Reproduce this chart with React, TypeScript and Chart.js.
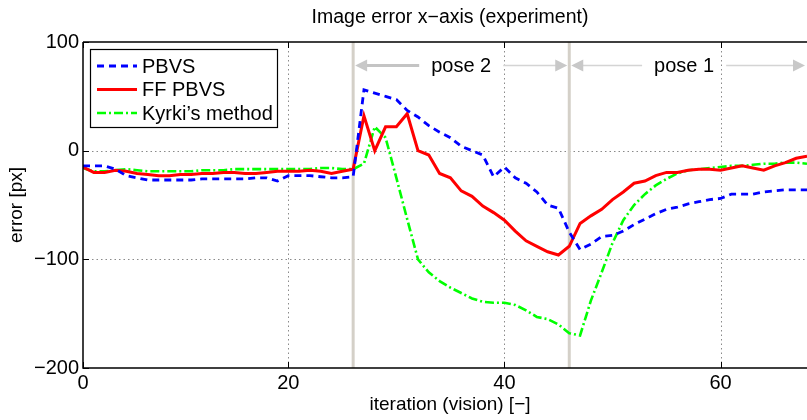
import React, { useEffect, useRef } from "react";
import { Chart, registerables } from "chart.js";
Chart.register(...registerables);

// ---------- data ----------
const FIRST_ITERATION = 1;
const PBVS = [
  -14, -14, -14, -17, -23, -25, -27, -27, -27, -27, -27, -26, -26, -26, -26, -26, -25, -25, -28, -23,
  -23, -23, -24, -25, -25, -24, 56, 53, 50, 47, 37, 31, 23, 17, 12, 4, 0, -4, -24, -15,
  -25, -30, -38, -50, -53, -75, -91, -86, -79, -78, -74, -68, -63, -58, -54, -52, -49, -47, -45, -44,
  -40, -40, -40, -38, -37, -36, -36, -36,
];
const FF_PBVS = [
  -15, -20, -20, -18, -19, -21, -22, -23, -23, -22, -22, -21, -21, -20, -20, -21, -21, -20, -19, -19,
  -19, -18, -19, -21, -19, -17, 32, 0, 22, 22, 34, 0, -4, -21, -25, -37, -42, -51, -57, -64,
  -74, -83, -88, -93, -96, -88, -67, -60, -54, -45, -38, -30, -28, -23, -20, -20, -18, -17, -17, -18,
  -16, -14, -16, -18, -14, -11, -7, -5,
];
const KYRKI = [
  -16, -19, -19, -18, -17, -18, -19, -19, -19, -19, -19, -18, -18, -18, -17, -17, -17, -17, -17, -17,
  -17, -17, -16, -16, -17, -17, -12, 22, 12, -25, -63, -100, -112, -120, -126, -131, -136, -139, -140, -140,
  -142, -147, -153, -155, -160, -168, -170, -138, -112, -85, -64, -50, -40, -32, -26, -21, -18, -17, -16, -15,
  -14, -14, -13, -12, -12, -11, -11, -12,
];
const SERIES_NAMES = ["PBVS", "FF PBVS", "Kyrki\u2019s method"];
const X_TICK_VALUES = [1, 20, 40, 60];
const X_TICK_LABELS = ["0", "20", "40", "60"];
const X_MIN = 1;
const X_MAX = 68;
const Y_TICK_VALUES = [-200, -100, 0, 100];
const POSE_LABELS = ["pose 2", "pose 1"];
const POSE_STARTS = [26, 46];
const POSE_ENDS = [46, 68];
const POSE_ARROW_Y = 79;
const TITLE = "Image error x\u2212axis (experiment)";
const X_LABEL = "iteration (vision) [\u2212]";
const Y_LABEL = "error [px]";

// ---------- styles ----------
const FONT = "'Liberation Sans', Arial, Helvetica, sans-serif";
const COLORS = ["#0000ff", "#ff0000", "#00ff00"];
const DASHES = [[7, 5], [], [9, 3, 2, 3]];
const WIDTHS = [2.8, 3, 2.6];

const decorPlugin = {
  id: "decor",
  beforeDatasetsDraw(chart: any) {
    const { ctx, chartArea: a, scales } = chart;
    const xs = scales.x, ys = scales.y;
    ctx.save();
    // dotted grid
    ctx.strokeStyle = "#8a8a8a";
    ctx.lineWidth = 1;
    ctx.setLineDash([1.5, 3]);
    X_TICK_VALUES.slice(1).forEach((v) => {
      const px = Math.round(xs.getPixelForValue(v)) + 0.5;
      ctx.beginPath();
      ctx.moveTo(px, a.top);
      ctx.lineTo(px, a.bottom);
      ctx.stroke();
    });
    Y_TICK_VALUES.slice(1, 3).forEach((v) => {
      const py = Math.round(ys.getPixelForValue(v)) + 0.5;
      ctx.beginPath();
      ctx.moveTo(a.left, py);
      ctx.lineTo(a.right, py);
      ctx.stroke();
    });
    ctx.setLineDash([]);
    // pose boundaries
    ctx.strokeStyle = "#d4d0c8";
    ctx.lineWidth = 3;
    POSE_STARTS.forEach((v) => {
      const px = xs.getPixelForValue(v);
      ctx.beginPath();
      ctx.moveTo(px, a.top);
      ctx.lineTo(px, a.bottom);
      ctx.stroke();
    });
    ctx.restore();
  },
  afterDatasetsDraw(chart: any) {
    const { ctx, chartArea: a, scales } = chart;
    const xs = scales.x, ys = scales.y;
    ctx.save();
    // frame
    ctx.strokeStyle = "#000";
    ctx.lineWidth = 1.5;
    ctx.beginPath();
    ctx.moveTo(a.left, a.top);
    ctx.lineTo(a.right, a.top);
    ctx.moveTo(a.left, a.top);
    ctx.lineTo(a.left, a.bottom);
    ctx.lineTo(a.right, a.bottom);
    ctx.stroke();
    // tick marks
    ctx.lineWidth = 1;
    X_TICK_VALUES.forEach((v) => {
      const px = Math.round(xs.getPixelForValue(v)) + 0.5;
      ctx.beginPath();
      ctx.moveTo(px, a.bottom);
      ctx.lineTo(px, a.bottom - 6);
      ctx.moveTo(px, a.top);
      ctx.lineTo(px, a.top + 6);
      ctx.stroke();
    });
    Y_TICK_VALUES.forEach((v) => {
      const py = Math.round(ys.getPixelForValue(v)) + 0.5;
      ctx.beginPath();
      ctx.moveTo(a.left, py);
      ctx.lineTo(a.left + 6, py);
      ctx.stroke();
    });
    // pose annotations
    const ay = Math.round(ys.getPixelForValue(POSE_ARROW_Y)) + 0.5;
    ctx.font = `20px ${FONT}`;
    ctx.textAlign = "center";
    ctx.textBaseline = "middle";
    const head = (tip: number, dir: number) => {
      ctx.fillStyle = "#c8c8c8";
      ctx.beginPath();
      ctx.moveTo(tip, ay);
      ctx.lineTo(tip - dir * 12, ay - 6);
      ctx.lineTo(tip - dir * 12, ay + 6);
      ctx.closePath();
      ctx.fill();
    };
    POSE_LABELS.forEach((label, i) => {
      const x0 = xs.getPixelForValue(POSE_STARTS[i]) + 2;
      const x1 = Math.min(xs.getPixelForValue(POSE_ENDS[i]) - 2, a.right - 1);
      const mid = (x0 + x1) / 2 - (i === 1 ? 4 : 0);
      const w = ctx.measureText(label).width;
      ctx.strokeStyle = i === 0 ? "#c4c4c4" : "#d4d4d4";
      ctx.lineWidth = i === 0 ? 3 : 1.5;
      ctx.beginPath();
      ctx.moveTo(x0 + 10, ay);
      ctx.lineTo(mid - w / 2 - 12, ay);
      ctx.stroke();
      ctx.strokeStyle = "#d4d4d4";
      ctx.lineWidth = 1.5;
      ctx.beginPath();
      ctx.moveTo(mid + w / 2 + 12, ay);
      ctx.lineTo(x1 - 10, ay);
      ctx.stroke();
      head(x0, -1);
      head(x1, 1);
      ctx.fillStyle = "#000";
      ctx.fillText(label, mid, ay + 1);
    });
    // legend
    const lx = 90, ly = 49, lw = 187, lh = 78;
    ctx.fillStyle = "#fff";
    ctx.fillRect(lx, ly, lw, lh);
    ctx.strokeStyle = "#000";
    ctx.lineWidth = 1.2;
    ctx.strokeRect(lx + 0.5, ly + 0.5, lw, lh);
    ctx.textAlign = "left";
    SERIES_NAMES.forEach((name, i) => {
      const y = ly + 17 + i * 23.5;
      ctx.strokeStyle = COLORS[i];
      ctx.lineWidth = WIDTHS[i];
      ctx.setLineDash(DASHES[i]);
      ctx.beginPath();
      ctx.moveTo(lx + 7, y);
      ctx.lineTo(lx + 47, y);
      ctx.stroke();
      ctx.setLineDash([]);
      ctx.fillStyle = "#000";
      ctx.fillText(name, lx + 52, y + 1);
    });
    // title & axis labels
    const cx = (a.left + a.right) / 2 + 5;
    ctx.textAlign = "center";
    ctx.font = `19.5px ${FONT}`;
    ctx.fillText(TITLE, cx, 18);
    ctx.font = `19px ${FONT}`;
    ctx.fillText(X_LABEL, cx, 405);
    ctx.translate(17, (a.top + a.bottom) / 2);
    ctx.rotate(-Math.PI / 2);
    ctx.fillText(Y_LABEL, 0, 0);
    ctx.restore();
  },
};

export default function App() {
  const ref = useRef<HTMLCanvasElement | null>(null);
  useEffect(() => {
    if (!ref.current) return;
    const toPts = (arr: number[]) => arr.map((v, i) => ({ x: i + FIRST_ITERATION, y: v }));
    const chart = new Chart(ref.current, {
      type: "line",
      data: {
        datasets: [PBVS, FF_PBVS, KYRKI].map((arr, i) => ({
          label: SERIES_NAMES[i],
          data: toPts(arr),
          borderColor: COLORS[i],
          borderWidth: WIDTHS[i],
          borderDash: DASHES[i],
          pointRadius: 0,
          tension: 0,
          fill: false,
        })),
      },
      options: {
        responsive: false,
        animation: false,
        layout: { padding: { top: 42, left: 0, right: 0, bottom: 0 } },
        plugins: { legend: { display: false }, title: { display: false }, tooltip: { enabled: false } },
        scales: {
          x: {
            type: "linear",
            min: X_MIN,
            max: X_MAX,
            grid: { display: false, drawTicks: false },
            border: { display: false },
            afterBuildTicks: (s: any) => {
              s.ticks = X_TICK_VALUES.map((v) => ({ value: v }));
            },
            afterFit: (s: any) => {
              s.height = 52;
            },
            ticks: {
              autoSkip: false,
              maxRotation: 0,
              padding: 3,
              color: "#000",
              font: { family: FONT, size: 20 },
              callback: (v: any) => X_TICK_LABELS[X_TICK_VALUES.indexOf(Number(v))] ?? "",
            },
          },
          y: {
            min: -200,
            max: 100,
            grid: { display: false, drawTicks: false },
            border: { display: false },
            afterBuildTicks: (s: any) => {
              s.ticks = Y_TICK_VALUES.map((v) => ({ value: v }));
            },
            afterFit: (s: any) => {
              s.width = 83;
            },
            ticks: {
              padding: 4,
              color: "#000",
              font: { family: FONT, size: 20 },
              callback: (v: any) => String(v).replace("-", "\u2212"),
            },
          },
        },
      },
      plugins: [decorPlugin],
    } as any);
    return () => chart.destroy();
  }, []);
  return (
    <div style={{ position: "fixed", left: 0, top: 0, width: 807, height: 420, background: "#fff" }}>
      <canvas ref={ref} width={807} height={420} style={{ display: "block" }} />
    </div>
  );
}
